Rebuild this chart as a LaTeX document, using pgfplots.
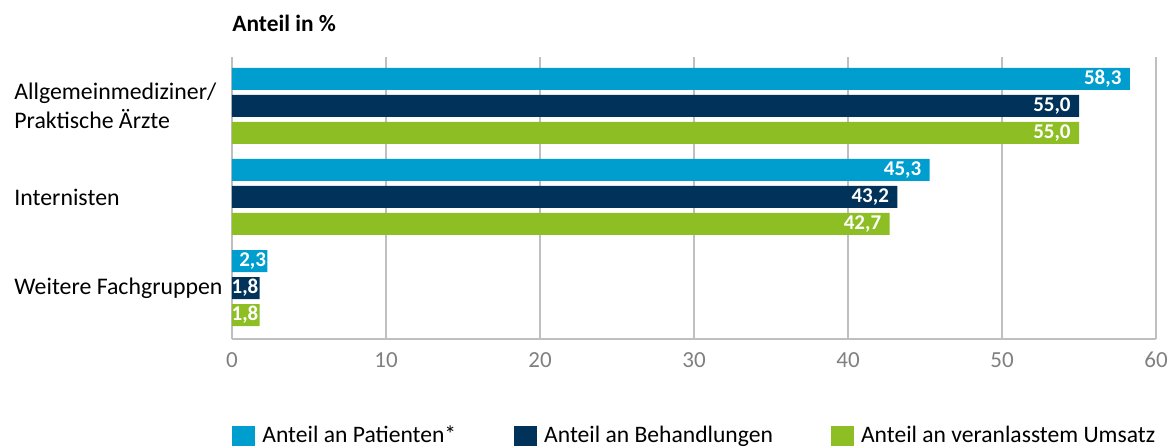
\documentclass[border=0pt]{standalone}
\usepackage{fontspec}
\setmainfont{Carlito}
\usepackage{pgfplots}
\pgfplotsset{compat=1.18}
\definecolor{cA}{RGB}{0,158,206}
\definecolor{cB}{RGB}{0,50,90}
\definecolor{cC}{RGB}{141,190,35}
\definecolor{gridc}{RGB}{191,191,191}
\definecolor{tickc}{RGB}{128,128,128}
\begin{document}
\begin{tikzpicture}
\path[use as bounding box] (-116pt,-54.5pt) rectangle (469pt,169.5pt);
\begin{axis}[
  scale only axis,
  width=462pt, height=141pt,
  xmin=0, xmax=60, ymin=-0.56, ymax=2.538,
  axis x line*=bottom, axis y line*=left,
  axis line style={gridc, line width=0.8pt, -},
  xtick={0,10,...,60},
  ytick={0,1,2},
  yticklabels={Weitere Fachgruppen, Internisten, {Allgemeinmediziner/\\Praktische Ärzte}},
  major tick length=0pt,
  xmajorgrids, grid style={gridc, line width=0.8pt},
  x tick label style={font=\fontsize{11.5}{13}\selectfont, text=tickc, inner sep=0pt, yshift=-6.5pt},
  xticklabel={\pgfmathprintnumber{\tick}},
  /pgf/number format/assume math mode=true,
  y tick label style={font=\fontsize{11.9}{14.5}\selectfont, anchor=west, align=left, inner sep=0pt, xshift=-109pt},
  title={Anteil in \%},
  title style={at={(0,1)}, anchor=base west, inner sep=0pt, yshift=6.5pt, font=\bfseries\fontsize{11.7}{13}\selectfont},
  point meta=x,
  visualization depends on={rawx \as \rawx},
  nodes near coords={\pgfmathprintnumber[fixed, fixed zerofill, precision=1, use comma]{\pgfplotspointmeta}},
  every node near coord/.append style={anchor=east, text=white, font=\bfseries\fontsize{10.5}{12}\selectfont, inner xsep=0pt, xshift={((\rawx<5)?-0.5:-4)*1pt}},
  legend columns=3,
  legend style={draw=none, at={(0,0)}, anchor=west, yshift=-48.5pt, inner sep=0pt, font=\fontsize{11.8}{13}\selectfont,
    /tikz/every even column/.append style={column sep=27pt}},
  legend cell align=left,
  legend image code/.code={\fill[#1] (0pt,-5pt) rectangle (11.5pt,5pt);},
  clip=false,
]
\addplot[xbar, draw=none, fill=cA, bar width=11pt, bar shift=0pt] coordinates {(58.3,2.2967) (45.3,1.2967) (2.3,0.2967)};
\addlegendentry{\hspace{1.5pt}Anteil an Patienten*}
\addplot[xbar, draw=none, fill=cB, bar width=11pt, bar shift=0pt] coordinates {(55.0,2) (43.2,1) (1.8,0)};
\addlegendentry{\hspace{1.5pt}Anteil an Behandlungen}
\addplot[xbar, draw=none, fill=cC, bar width=11pt, bar shift=0pt] coordinates {(55.0,1.7033) (42.7,0.7033) (1.8,-0.2967)};
\addlegendentry{\hspace{1.5pt}Anteil an veranlasstem Umsatz}
\end{axis}
\end{tikzpicture}
\end{document}
